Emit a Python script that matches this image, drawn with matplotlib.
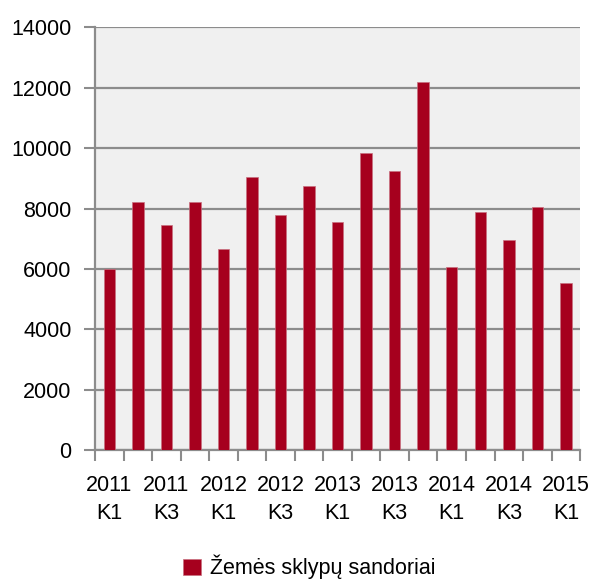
import matplotlib
matplotlib.use("Agg")
import matplotlib.pyplot as plt
import numpy as np

# Quarterly counts of land plot transactions
quarters = ["2011\nK1", "2011\nK2", "2011\nK3", "2011\nK4",
            "2012\nK1", "2012\nK2", "2012\nK3", "2012\nK4",
            "2013\nK1", "2013\nK2", "2013\nK3", "2013\nK4",
            "2014\nK1", "2014\nK2", "2014\nK3", "2014\nK4",
            "2015\nK1"]
sandoriai = [6000, 8220, 7470, 8220, 6650, 9050, 7770, 8740,
             7540, 9850, 9250, 12180, 6070, 7900, 6970, 8050, 5520]
y_ticks = [0, 2000, 4000, 6000, 8000, 10000, 12000, 14000]
series_label = "Žemės sklypų sandoriai"

plt.rcParams["font.family"] = ["Liberation Sans", "DejaVu Sans"]

bar_color = "#A6001E"
grid_color = "#8C8C8C"
fs = 15.5

fig = plt.figure(figsize=(5.92, 5.80), dpi=100)
ax = fig.add_axes([0.1605, 0.2241, 0.8195, 0.7287])
ax.set_facecolor("#F0F0F0")

x = np.arange(len(quarters))
ax.bar(x, sandoriai, width=0.4, color=bar_color, edgecolor="#C8707F",
       linewidth=0.5, zorder=3, label=series_label)

ax.set_xlim(-0.5, len(quarters) - 0.5)
ax.set_ylim(0, 14000)
ax.set_yticks(y_ticks)
ax.set_yticklabels([str(v) for v in y_ticks], fontsize=fs)

# Labels on every other quarter, tick marks on category boundaries
ax.set_xticks(x[::2])
ax.set_xticklabels([quarters[i] for i in x[::2]], fontsize=fs, linespacing=1.45)
ax.tick_params(axis="x", which="major", length=0, pad=18)
ax.set_xticks(np.arange(-0.5, len(quarters)), minor=True)
ax.tick_params(axis="x", which="minor", length=8, width=1.5, color=grid_color)
ax.tick_params(axis="y", length=8, width=1.5, color=grid_color, pad=9)

ax.yaxis.grid(True, color=grid_color, linewidth=1.6, zorder=1)
ax.set_axisbelow(True)
for side in ["top", "right"]:
    ax.spines[side].set_visible(False)
for side in ["left", "bottom"]:
    ax.spines[side].set_color(grid_color)
    ax.spines[side].set_linewidth(1.6)

fig.legend(loc="center", bbox_to_anchor=(0.523, 0.022), frameon=False,
           fontsize=fs, handlelength=0.8, handleheight=0.8, handletextpad=0.45)

fig.savefig("out.png", dpi=100)
